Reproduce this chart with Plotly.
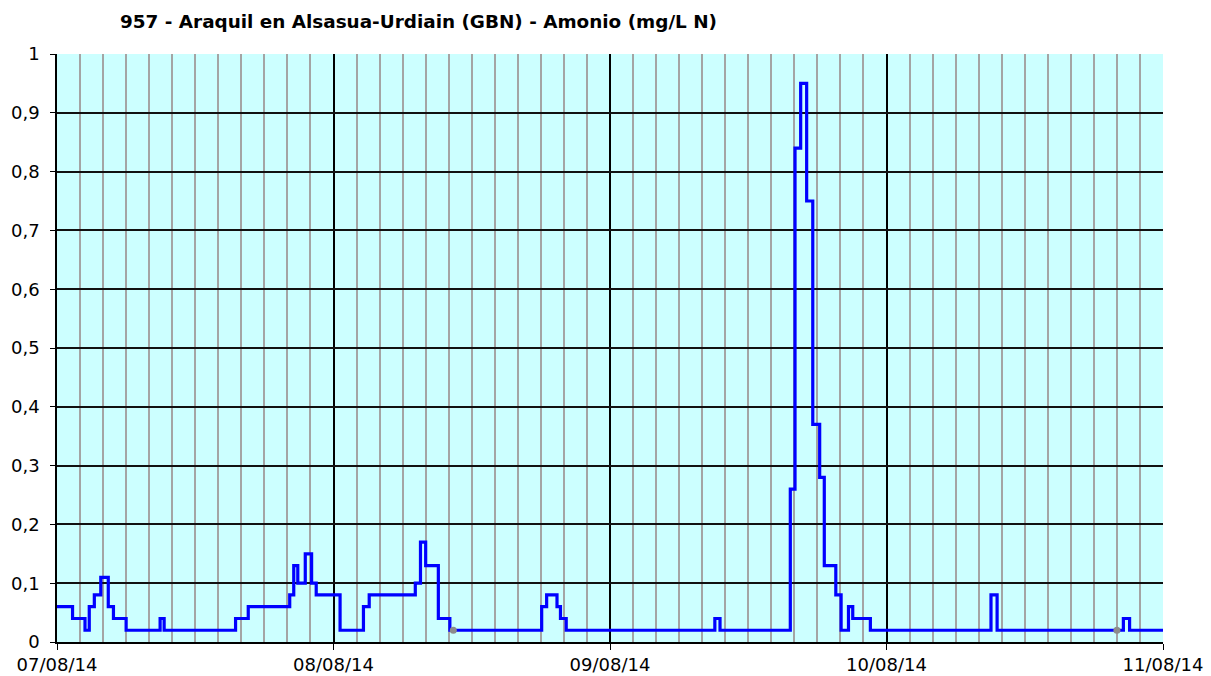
import pandas as pd
import plotly.graph_objects as go

# Step-change times (hours after 07/08/14 00:00) and ammonium values (mg/L N)
step_hours = [0, 1.35, 2.43, 2.8, 3.24, 3.8, 4.45, 4.9, 6.0, 8.95, 9.3, 15.5, 16.6,
              20.2, 20.55, 20.9, 21.55, 22.1, 22.5, 24.57, 26.6, 27.1, 31.1, 31.55,
              32.0, 33.1, 34.1, 42.07, 42.5, 43.4, 43.7, 44.2, 57.1, 57.55, 63.65,
              64.06, 64.55, 65.07, 65.6, 66.2, 66.6, 67.6, 68.06, 68.7, 69.07, 70.6,
              81.07, 81.6, 92.56, 93.1, 96]
step_values = [0.06, 0.04, 0.02, 0.06, 0.08, 0.11, 0.06, 0.04, 0.02, 0.04, 0.02, 0.04, 0.06,
               0.08, 0.13, 0.10, 0.15, 0.10, 0.08, 0.02, 0.06, 0.08, 0.10, 0.17,
               0.13, 0.04, 0.02, 0.06, 0.08, 0.06, 0.04, 0.02, 0.04, 0.02, 0.26,
               0.84, 0.95, 0.75, 0.37, 0.28, 0.13, 0.08, 0.02, 0.06, 0.04, 0.02,
               0.08, 0.02, 0.04, 0.02, 0.02]
# Grey flagged points
flag_hours = [34.4, 92.0]
flag_values = [0.02, 0.02]

start = pd.Timestamp("2014-08-07")
x_steps = [start + pd.Timedelta(hours=h) for h in step_hours]
x_flags = [start + pd.Timedelta(hours=h) for h in flag_hours]
day_ticks = [start + pd.Timedelta(days=d) for d in range(5)]
day_labels = [d.strftime("%d/%m/%y") for d in day_ticks]

fig = go.Figure()
fig.add_trace(go.Scatter(x=x_steps, y=step_values, mode="lines", line_shape="hv",
                         line=dict(color="#0000FF", width=3.2), hoverinfo="x+y",
                         showlegend=False))
fig.add_trace(go.Scatter(x=x_flags, y=flag_values, mode="markers",
                         marker=dict(color="#8C8C8C", size=7), showlegend=False))

fig.update_layout(
    width=1211, height=676,
    margin=dict(l=57, r=48, t=54, b=34, autoexpand=False),
    paper_bgcolor="white", plot_bgcolor="#CCFFFF",
    separators=",.",
    font=dict(family="DejaVu Sans", size=18, color="#000000"),
    title=dict(text="<b>957 - Araquil en Alsasua-Urdiain (GBN) - Amonio (mg/L N)</b>",
               x=120/1211, xanchor="left", xref="container",
               y=1-22/676, yanchor="middle", yref="container",
               font=dict(family="DejaVu Sans", size=18.4, color="#000000")),
    xaxis=dict(type="date", range=[day_ticks[0], day_ticks[-1]],
               tickmode="array", tickvals=day_ticks, ticktext=day_labels,
               tickfont=dict(size=18), ticklabelstandoff=0, automargin=False,
               showgrid=True, gridcolor="#000000", gridwidth=1.5,
               minor=dict(dtick=2*3600*1000, showgrid=True, gridcolor="#A4A4A4",
                          gridwidth=2, ticks=""),
               ticks="outside", ticklen=6, tickcolor="#000000",
               showline=True, linecolor="#000000", linewidth=1.5,
               zeroline=False, fixedrange=True),
    yaxis=dict(range=[0, 1], dtick=0.1, tick0=0, automargin=False,
               ticklabelstandoff=7,
               showgrid=True, gridcolor="#111111", gridwidth=1.5,
               ticks="outside", ticklen=5, tickcolor="#000000",
               showline=True, linecolor="#000000", linewidth=1.5,
               zeroline=False, fixedrange=True),
)

fig.write_html("out.html", config={"displayModeBar": False},
               post_script="document.body.style.margin='0';document.body.style.overflow='hidden';")
